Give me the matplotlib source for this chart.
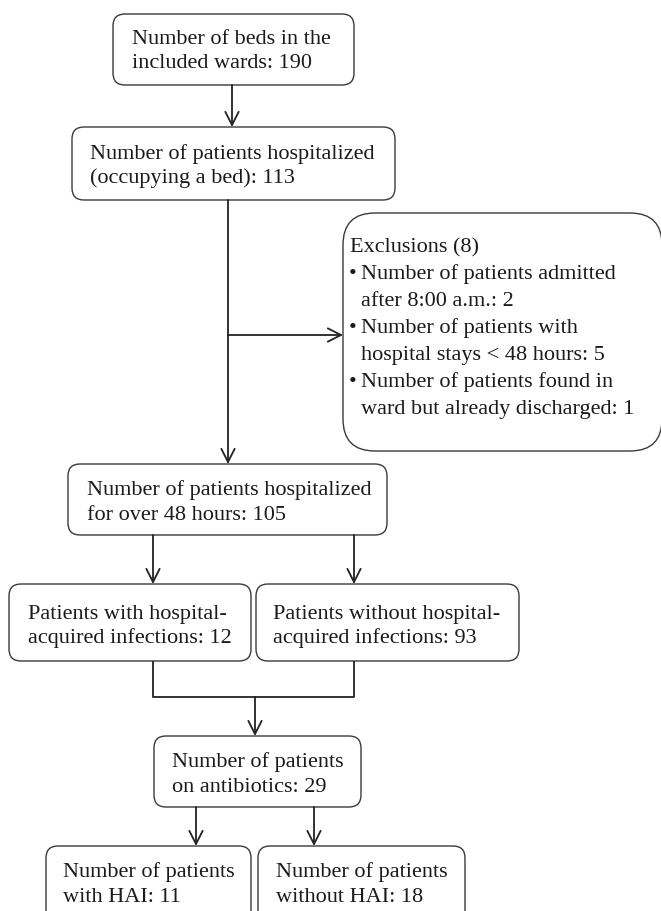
import matplotlib
matplotlib.use("Agg")
import matplotlib.pyplot as plt
from matplotlib.patches import FancyBboxPatch, FancyArrowPatch

# ---------------- data ----------------
beds_total = 190
hospitalized = 113
excluded_total = 8
excl_counts = [2, 5, 1]
over48 = 105
with_hai = 12
without_hai = 93
on_abx = 29
abx_with_hai = 11
abx_without_hai = 18

beds_text = ["Number of beds in the", f"included wards: {beds_total}"]
hosp_text = ["Number of patients hospitalized", f"(occupying a bed): {hospitalized}"]
excl_title = f"Exclusions ({excluded_total})"
excl_items = [
    ["Number of patients admitted", f"after 8:00 a.m.: {excl_counts[0]}"],
    ["Number of patients with", f"hospital stays < 48 hours: {excl_counts[1]}"],
    ["Number of patients found in", f"ward but already discharged: {excl_counts[2]}"],
]
over48_text = ["Number of patients hospitalized", f"for over 48 hours: {over48}"]
hai_text = ["Patients with hospital-", f"acquired infections: {with_hai}"]
nohai_text = ["Patients without hospital-", f"acquired infections: {without_hai}"]
abx_text = ["Number of patients", f"on antibiotics: {on_abx}"]
abx_hai_text = ["Number of patients", f"with HAI: {abx_with_hai}"]
abx_nohai_text = ["Number of patients", f"without HAI: {abx_without_hai}"]

# ---------------- drawing ----------------
W, H = 661, 911
fig = plt.figure(figsize=(W / 100, H / 100), dpi=100)
ax = fig.add_axes([0, 0, 1, 1])
ax.set_xlim(0, W)
ax.set_ylim(H, 0)
ax.axis("off")

FONT = "Liberation Serif"
FS = 16.0
EDGE = "#3a3a3a"
LINE = "#222222"
TXT = "#1a1a1a"
LSP = 24.5


def box(x0, y0, x1, y1, r=12):
    p = FancyBboxPatch((x0, y0), x1 - x0, y1 - y0,
                       boxstyle=f"round,pad=0,rounding_size={r}",
                       fc="white", ec=EDGE, lw=1.0, clip_on=True)
    ax.add_patch(p)


def lines(x, yc_first, texts, spacing=LSP):
    for i, t in enumerate(texts):
        ax.text(x, yc_first + i * spacing + 7, t, fontsize=FS, family=FONT,
                color=TXT, ha="left", va="baseline")


def arrow(x0, y0, x1, y1):
    a = FancyArrowPatch((x0, y0), (x1, y1),
                        arrowstyle="->,head_length=9.5,head_width=4.8",
                        mutation_scale=1, color=LINE, lw=1.3,
                        shrinkA=0, shrinkB=0)
    ax.add_patch(a)


def seg(xs, ys):
    ax.plot(xs, ys, color=LINE, lw=1.3, solid_capstyle="butt")


# Box 1
box(113, 14, 354, 85)
lines(132, 37, beds_text)
arrow(232, 85, 232, 127)

# Box 2
box(72, 127, 395, 200)
lines(90, 152, hosp_text)

# main vertical + branch to exclusions
arrow(228, 200, 228, 464)
arrow(228, 335, 343, 335)

# Exclusions box
box(343, 213, 662, 451, r=32)
ex_y = 245
ex_sp = 27
ax.text(350, ex_y + 7, excl_title, fontsize=FS, family=FONT, color=TXT,
        ha="left", va="baseline")
k = 1
for item in excl_items:
    ax.text(349, ex_y + k * ex_sp + 7, "\u2022", fontsize=FS, family=FONT,
            color=TXT, ha="left", va="baseline")
    for ln in item:
        ax.text(361, ex_y + k * ex_sp + 7, ln, fontsize=FS, family=FONT,
                color=TXT, ha="left", va="baseline")
        k += 1

# Box 3
box(68, 464, 387, 535)
lines(87, 488, over48_text)
arrow(153, 535, 153, 584)
arrow(354, 535, 354, 584)

# Box 4
box(9, 584, 251, 661)
lines(28, 612, hai_text)
box(256, 584, 519, 661)
lines(273, 612, nohai_text)

# connector
seg([153, 153, 354, 354], [661, 697, 697, 661])
arrow(255, 697, 255, 736)

# Box 5
box(154, 736, 361, 807)
lines(172, 760, abx_text)
arrow(196, 807, 196, 846)
arrow(314, 807, 314, 846)

# Box 6
box(46, 846, 251, 925)
lines(63, 870, abx_hai_text)
box(258, 846, 465, 925)
lines(276, 870, abx_nohai_text)

fig.savefig("out.png", dpi=100, facecolor="white")
